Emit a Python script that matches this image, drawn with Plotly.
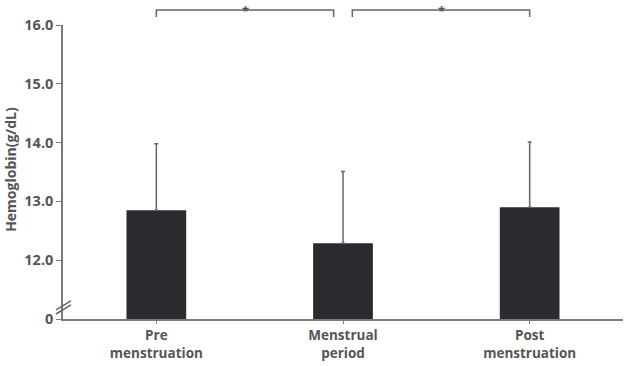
import plotly.graph_objects as go

categories = ["Pre<br>menstruation", "Menstrual<br>period", "Post<br>menstruation"]
means = [12.85, 12.29, 12.90]
sd_upper = [1.13, 1.22, 1.11]
ytick_vals = [11, 12, 13, 14, 15, 16]
ytick_text = ["0", "12.0", "13.0", "14.0", "15.0", "16.0"]
axis_base = 11  # axis break: "0" is drawn at the 11.0 position

x = list(range(len(categories)))
font_fam = "Open Sans"
txt_col = "#555555"
axis_col = "#7a7a7a"

fig = go.Figure()
fig.add_trace(go.Bar(
    x=x, y=[m - axis_base for m in means], base=axis_base,
    width=0.32, marker=dict(color="#2a2a2f", line=dict(width=0)),
    error_y=dict(type="data", symmetric=False, array=sd_upper,
                 arrayminus=[0] * len(means), color="#666666",
                 thickness=1.5, width=2),
    showlegend=False,
))

fig.update_layout(
    width=627, height=366,
    margin=dict(l=63, r=4, t=25, b=47),
    plot_bgcolor="white", paper_bgcolor="white",
    font=dict(family=font_fam, size=13, color=txt_col),
)
fig.update_xaxes(
    range=[-0.5, 2.5], tickvals=x, ticktext=["<b>%s</b>" % c for c in categories],
    showline=True, linecolor=axis_col, linewidth=1.5,
    ticks="outside", tickson="boundaries", ticklen=3, tickcolor=axis_col,
    showgrid=False, zeroline=False, tickfont=dict(size=13.5, color=txt_col),
)
fig.update_yaxes(
    range=[axis_base, 16], tickvals=ytick_vals,
    ticktext=["<b>%s</b>" % t for t in ytick_text],
    showline=True, linecolor=axis_col, linewidth=1.5,
    ticks="outside", ticklen=5, tickcolor=axis_col,
    showgrid=False, zeroline=False, tickfont=dict(size=14.5, color=txt_col),
)

# y-axis title
fig.add_annotation(text="<b>Hemoglobin(g/dL)</b>", xref="paper", yref="paper",
                   x=-0.095, y=0.51, textangle=-90, showarrow=False,
                   font=dict(size=14, color=txt_col), xanchor="center", yanchor="middle")

# significance brackets
brackets = [(0.0, 0.95), (1.05, 2.0)]
for (a, b) in brackets:
    ytop, ybot = 1.051, 1.027
    fig.add_shape(type="path", xref="x", yref="paper",
                  path=f"M {a},{ybot} L {a},{ytop} L {b},{ytop} L {b},{ybot}",
                  line=dict(color="#666666", width=1.5))
    fig.add_annotation(text="<b>*</b>", xref="x", yref="paper", x=(a + b) / 2, y=1.085,
                       showarrow=False, yanchor="top", font=dict(size=13, color=txt_col))

# axis break marks
for dy in (0.0, 0.014):
    fig.add_shape(type="line", xref="paper", yref="paper",
                  x0=-0.0125, y0=0.017 + dy, x1=0.0143, y1=0.048 + dy,
                  line=dict(color="#666666", width=1.5))

fig.write_html("out.html")
